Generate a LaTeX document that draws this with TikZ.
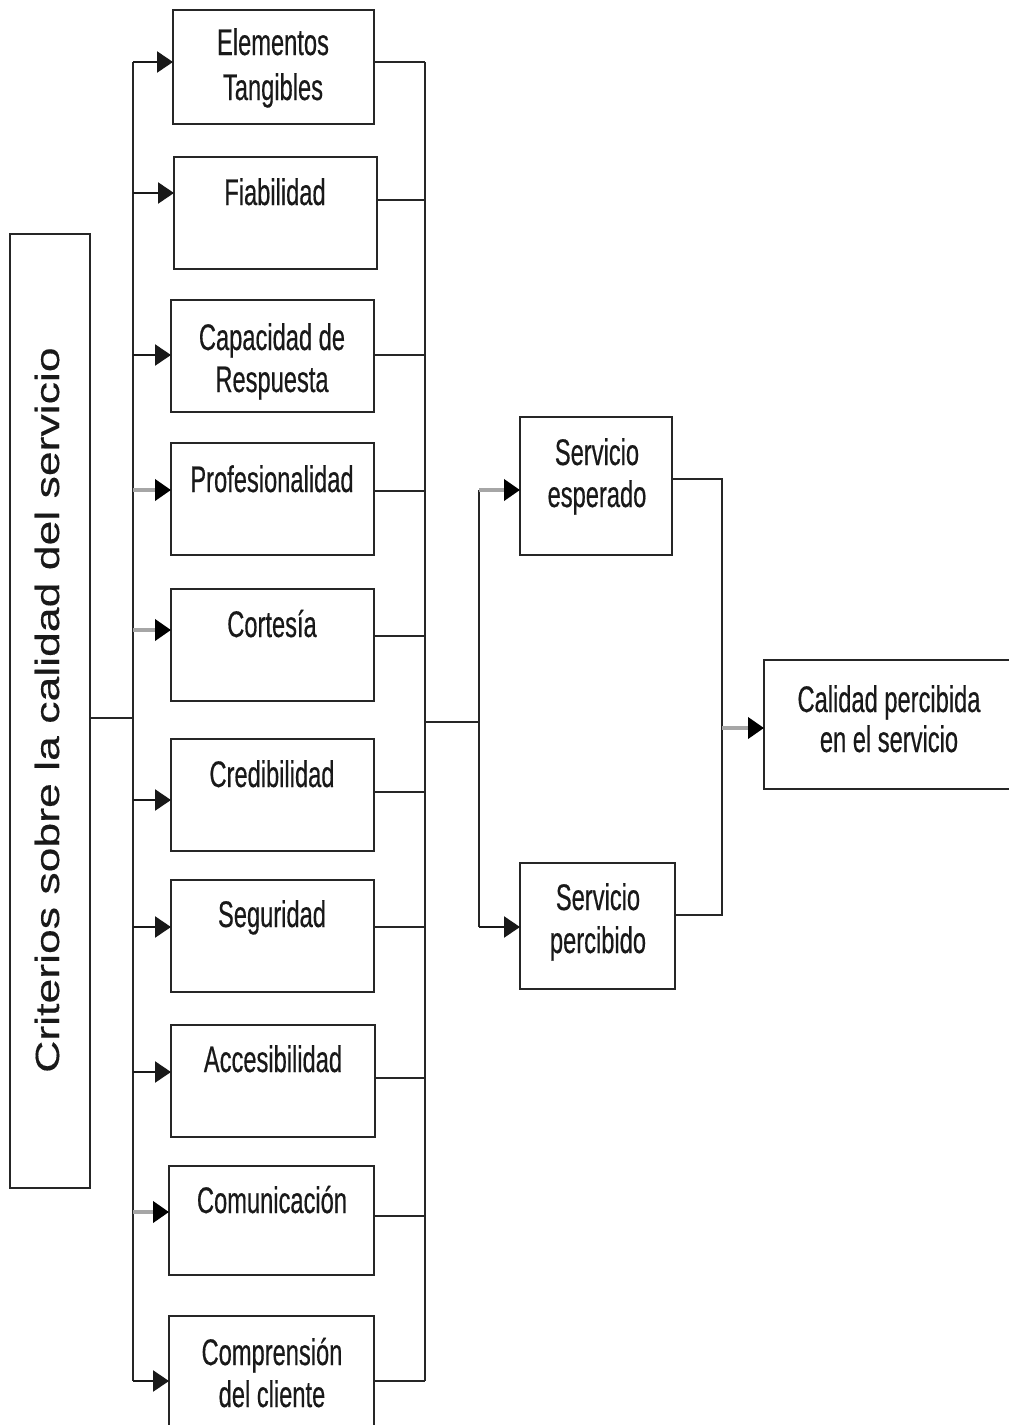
\documentclass[tikz,border=0pt]{standalone}
\usepackage{fontspec}
\setmainfont{Liberation Sans}
\newfontfamily\narrowfont[FakeStretch=0.64,FakeBold=0.4]{Liberation Sans}
\newfontfamily\wideFont[FakeStretch=1.33,FakeBold=0.3]{Liberation Sans}
\usetikzlibrary{arrows.meta,calc}
\newcommand{\mybox}[5]{\node[box, minimum width={(#4-#2)*1pt}, minimum height={(#5-#3)*1pt}] (#1) at ({(#2+#4)/2},{(#3+#5)/2}) {};}
\begin{document}
\begin{tikzpicture}[x=1pt,y=-1pt,
  box/.style={draw=black!85, line width=2pt, inner sep=0pt, outer sep=0pt, fill=none},
  lab/.style={font=\narrowfont\fontsize{37}{44}\selectfont, anchor=base, inner sep=0pt, text=black!90},
  conn/.style={line width=2pt, draw=black!85},
  arr/.style={line width=2.4pt, draw=black!90, -{Triangle[length=16pt,width=21pt]}},
  garr/.style={line width=3.8pt, draw=gray!70, -{Triangle[length=16pt,width=21pt,color=black,fill=black]}}
]
\useasboundingbox[fill=white] (0,0) rectangle (1009,1425);

% left criterion box
\mybox{crit}{10}{234}{90}{1188}
\node[font=\wideFont\fontsize{33.5}{40}\selectfont, rotate=90, anchor=base, inner sep=0pt, text=black!90] (critt) at (59,710) {Criterios sobre la calidad del servicio};

% criteria boxes
\mybox{b1}{173}{10}{374}{124}
\mybox{b2}{174}{157}{377}{269}
\mybox{b3}{171}{300}{374}{412}
\mybox{b4}{171}{443}{374}{555}
\mybox{b5}{171}{589}{374}{701}
\mybox{b6}{171}{739}{374}{851}
\mybox{b7}{171}{880}{374}{992}
\mybox{b8}{171}{1025}{375}{1137}
\mybox{b9}{169}{1166}{374}{1275}
\mybox{b10}{169}{1316}{374}{1445}

\node[lab] (l1a) at (273,55) {Elementos};
\node[lab] (l1b) at (273,100) {Tangibles};
\node[lab] (l2) at (275,205) {Fiabilidad};
\node[lab] (l3a) at (272,350) {Capacidad de};
\node[lab] (l3b) at (272,392) {Respuesta};
\node[lab] (l4) at (272,492) {Profesionalidad};
\node[lab] (l5) at (272,637) {Cortesía};
\node[lab] (l6) at (272,787) {Credibilidad};
\node[lab] (l7) at (272,927) {Seguridad};
\node[lab] (l8) at (273,1072) {Accesibilidad};
\node[lab] (l9) at (272,1213) {Comunicación};
\node[lab] (l10a) at (272,1365) {Comprensión};
\node[lab] (l10b) at (272,1407) {del cliente};

% middle and right boxes
\mybox{se}{520}{417}{672}{555}
\mybox{sp}{520}{863}{675}{989}
\mybox{cal}{764}{660}{1014}{789}
\node[lab] (sea) at (597,465) {Servicio};
\node[lab] (seb) at (597,507) {esperado};
\node[lab] (spa) at (598,910) {Servicio};
\node[lab] (spb) at (598,953) {percibido};
\node[lab] (cala) at (889,712) {Calidad percibida};
\node[lab] (calb) at (889,752) {en el servicio};

% left bus coordinates
\coordinate (c0) at (133,718);
\coordinate (s1) at (133,62);
\coordinate (s2) at (133,193);
\coordinate (s3) at (133,355);
\coordinate (s4) at (133,490);
\coordinate (s5) at (133,630);
\coordinate (s6) at (133,800);
\coordinate (s7) at (133,927);
\coordinate (s8) at (133,1072);
\coordinate (s9) at (133,1212);
\coordinate (s10) at (133,1381);

\draw[conn] (c0 -| crit.east) -- (c0);
\draw[conn] (s1) -- (s10);
\draw[arr] (s1) -- (s1 -| b1.west);
\draw[arr] (s2) -- (s2 -| b2.west);
\draw[arr] (s3) -- (s3 -| b3.west);
\draw[garr] (s4) -- (s4 -| b4.west);
\draw[garr] (s5) -- (s5 -| b5.west);
\draw[arr] (s6) -- (s6 -| b6.west);
\draw[arr] (s7) -- (s7 -| b7.west);
\draw[arr] (s8) -- (s8 -| b8.west);
\draw[garr] (s9) -- (s9 -| b9.west);
\draw[arr] (s10) -- (s10 -| b10.west);

% right bus coordinates
\coordinate (t1) at (425,62);
\coordinate (t2) at (425,200);
\coordinate (t3) at (425,355);
\coordinate (t4) at (425,491);
\coordinate (t5) at (425,636);
\coordinate (t6) at (425,792);
\coordinate (t7) at (425,927);
\coordinate (t8) at (425,1078);
\coordinate (t9) at (425,1216);
\coordinate (t10) at (425,1381);
\draw[conn] (t1) -- (t10);
\foreach \i in {1,...,10} {\draw[conn] (t\i -| b\i.east) -- (t\i);}

% middle connector
\coordinate (m0) at (425,722);
\coordinate (m1) at (479,722);
\coordinate (me) at (479,490);
\coordinate (mp) at (479,927);
\draw[conn] (m0) -- (m1);
\draw[conn] (me) -- (mp);
\draw[garr] (me) -- (me -| se.west);
\draw[arr] (mp) -- (mp -| sp.west);

% right connector
\coordinate (q1) at (722,479);
\coordinate (q2) at (722,915);
\coordinate (q3) at (722,728);
\draw[conn] (q1 -| se.east) -- (q1) -- (q2) -- (q2 -| sp.east);
\draw[garr] (q3) -- (q3 -| cal.west);
\end{tikzpicture}
\end{document}
